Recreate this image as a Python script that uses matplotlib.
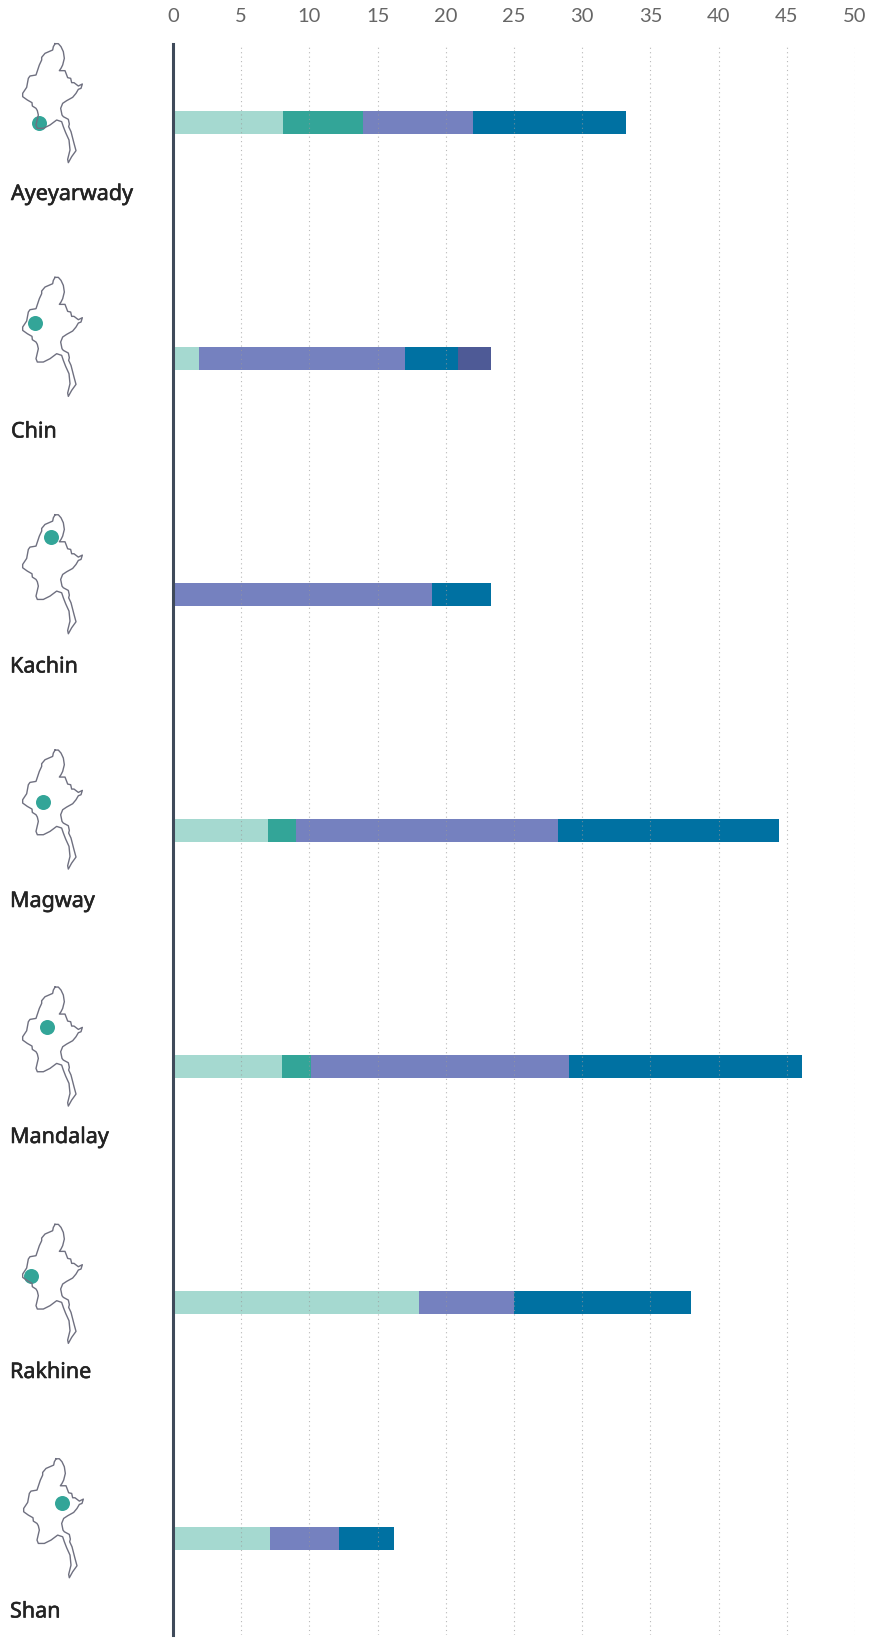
import matplotlib
matplotlib.use('Agg')
import matplotlib.pyplot as plt
import matplotlib.patheffects as pe
import numpy as np

states = ['Ayeyarwady', 'Chin', 'Kachin', 'Magway', 'Mandalay', 'Rakhine', 'Shan']
ticks = [0, 5, 10, 15, 20, 25, 30, 35, 40, 45, 50]

# length of each coloured piece per state, colours left to right
light = [8.1, 1.9, 0, 7, 8, 18, 7.1]
teal = [5.8, 0, 0, 2, 2.1, 0, 0]
purple = [8.1, 15.1, 19, 19.2, 18.9, 7, 5.1]
blue = [11.2, 3.9, 4.3, 16.2, 17.1, 13, 4]
dark = [0, 2.4, 0, 0, 0, 0, 0]
series = [light, teal, purple, blue, dark]
colors = ['#a5d9d0', '#33a598', '#7581bf', '#0071a2', '#4e5a96']

# map outline at 3x
map_x = np.array([165, 175, 183, 190, 193, 188, 183, 178, 195, 200, 203, 212, 215, 222, 235, 247, 243, 235, 228, 218, 200,
                  188, 182, 186, 190, 205, 208, 206, 213, 222, 228, 215, 205, 203, 210, 207, 197, 190, 185, 170, 150, 130,
                  112, 108, 115, 112, 108, 97, 96, 82, 68, 68, 80, 85, 90, 108, 113, 118, 125, 125, 135, 158, 160, 163, 165]) / 3
map_y = np.array([131, 131, 140, 155, 175, 195, 205, 212, 212, 225, 233, 235, 248, 248, 258, 252, 265, 268, 280, 292, 302,
                  310, 325, 345, 350, 358, 372, 380, 395, 430, 452, 470, 488, 478, 450, 420, 398, 380, 365, 360, 375, 385,
                  385, 375, 345, 332, 325, 318, 308, 300, 290, 280, 262, 235, 228, 225, 210, 195, 180, 172, 160, 150, 140, 135, 131]) / 3 - 43.6

# pixel places
map_top = [44.6, 278.3, 515.7, 751, 988, 1225.3, 1459.7]
map_shift = [0, 0, 0, 0, 0, 0, 1]
dot_x = [39, 35, 51, 43.3, 46.7, 31, 62.3]
dot_y = [123.5, 324, 538, 803, 1027.7, 1277, 1504]
label_x = [11, 11, 10, 10, 10, 10, 10]
label_y = [195.5, 433, 668, 902.5, 1138.5, 1373.5, 1613]

W, H = 882, 1640
fig = plt.figure(figsize=(W / 100, H / 100), dpi=100)

ax = fig.add_axes([173 / W, 4 / H, 682 / W, 1 - 49 / H])
ax.set_xlim(0, 50)
ax.set_ylim((H - 4 - 123.5) / 236, (45 - 123.5) / 236)

rows = np.arange(len(states))
left = np.zeros(len(states))
for s, c in zip(series, colors):
    ax.barh(rows, s, left=left, height=23 / 236, color=c, linewidth=0, zorder=2)
    left = left + np.array(s)

ax.grid(axis='x', color='#9a9a9a', linestyle=(0, (1, 3)), linewidth=0.8, alpha=0.7, zorder=3)
ax.set_axisbelow(False)
ax.set_yticks([])
ax.set_xticks(ticks)
ax.xaxis.tick_top()
ax.tick_params(axis='x', length=0, pad=14.5, labelsize=14.5, labelcolor='#666666')
for t in ax.get_xticklabels():
    t.set_fontfamily('Lato')
for side in ['top', 'right', 'bottom']:
    ax.spines[side].set_visible(False)
ax.spines['left'].set_color('#3f4a5a')
ax.spines['left'].set_linewidth(2.2)
ax.spines['left'].set_zorder(5)

# left column, drawn in pixels
side = fig.add_axes([0, 0, 173 / W, 1])
side.set_xlim(0, 173)
side.set_ylim(H, 0)
side.axis('off')
side.patch.set_alpha(0)
for i, name in enumerate(states):
    side.scatter(dot_x[i], dot_y[i], s=(15 * 0.72) ** 2, color='#33a598', linewidths=0, zorder=2)
    side.plot(map_x + map_shift[i], map_y + map_top[i], color='#6f7080', linewidth=1.0, zorder=3)
    side.text(label_x[i], label_y[i], name, fontsize=15.5, fontfamily='Noto Sans', color='#232323', va='center', ha='left',
              path_effects=[pe.withStroke(linewidth=0.4, foreground='#232323')])

fig.savefig('out.png', dpi=100)
